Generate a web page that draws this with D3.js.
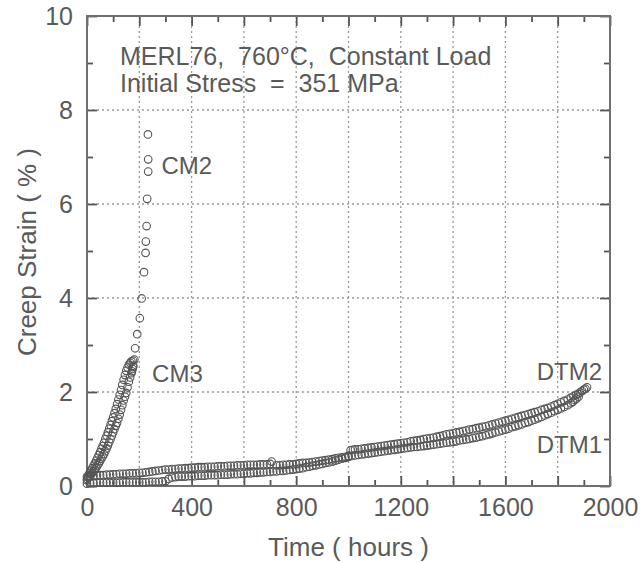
<!DOCTYPE html>
<html>
<head>
<meta charset="utf-8">
<script src="https://cdn.jsdelivr.net/npm/d3@7"></script>
<style>
  html, body { margin: 0; padding: 0; background: #fff; }
  svg { display: block; }
  text { font-family: "Liberation Sans Narrow", "Arial Narrow", "Liberation Sans", sans-serif; fill: #5a5a5a; }
</style>
</head>
<body>
<svg id="chart" width="642" height="563"></svg>
<script>
// Creep curves of MERL76 at 760 °C, constant load, initial stress 351 MPa.
// Each series is a list of [time (hours), creep strain (%)].
const seriesCM3 = [
  [0,0.12],[5,0.18],[10,0.22],[15,0.25],[20,0.28],[25,0.31],[30,0.35],[35,0.39],
  [40,0.44],[45,0.48],[50,0.53],[55,0.58],[60,0.63],[65,0.68],[70,0.74],[75,0.80],
  [80,0.86],[85,0.93],[90,1.00],[95,1.07],[100,1.14],[105,1.21],[110,1.28],[115,1.34],
  [120,1.43],[125,1.52],[130,1.62],[135,1.72],[140,1.82],[145,1.90],[150,1.98],[155,2.10],
  [160,2.22],[165,2.31],[170,2.40],[172,2.44],[174,2.49],[176,2.53],[177,2.56]
];
const seriesCM2 = [
  [0,0.15],[5,0.22],[10,0.28],[15,0.33],[20,0.38],[25,0.43],[30,0.48],[35,0.54],
  [40,0.60],[45,0.66],[50,0.72],[55,0.79],[60,0.85],[65,0.92],[70,1.00],[75,1.07],
  [80,1.14],[85,1.22],[90,1.30],[95,1.38],[100,1.46],[105,1.55],[110,1.64],[115,1.74],
  [120,1.84],[125,1.94],[130,2.04],[135,2.15],[140,2.26],[145,2.36],[150,2.45],[155,2.52],
  [160,2.58],[165,2.62],[170,2.65],[176,2.67],[181,2.69],[184,2.93],[192,3.23],[202,3.57],
  [209,3.99],[218,4.55],[224,4.96],[225,5.20],[228,5.53],[230,6.11],[234,6.69],[234,6.95],
  [233,7.48]
];
const seriesDTM2 = [
  [0,0.20],[12,0.21],[25,0.22],[38,0.22],[50,0.23],[62,0.23],[75,0.24],[88,0.24],
  [100,0.25],[112,0.25],[125,0.26],[138,0.26],[150,0.26],[162,0.27],[175,0.27],[188,0.27],
  [200,0.28],[212,0.28],[225,0.29],[238,0.30],[250,0.31],[262,0.32],[275,0.33],[288,0.34],
  [300,0.35],[312,0.35],[325,0.36],[338,0.36],[350,0.37],[362,0.37],[375,0.38],[388,0.38],
  [400,0.39],[412,0.39],[425,0.40],[438,0.40],[450,0.40],[462,0.41],[475,0.41],[488,0.41],
  [500,0.42],[512,0.42],[525,0.42],[538,0.43],[550,0.43],[562,0.43],[575,0.44],[588,0.44],
  [600,0.44],[612,0.45],[625,0.45],[638,0.45],[650,0.45],[662,0.46],[675,0.46],[688,0.46],
  [700,0.47],[706,0.52],[725,0.44],[738,0.44],[750,0.45],[762,0.45],[775,0.46],[788,0.46],
  [800,0.47],[812,0.48],[825,0.49],[838,0.49],[850,0.50],[862,0.51],[875,0.52],[888,0.53],
  [900,0.54],[912,0.55],[925,0.56],[938,0.57],[950,0.59],[962,0.60],[975,0.61],[988,0.62],
  [1000,0.64],[1008,0.76],[1017,0.77],[1025,0.78],[1038,0.78],[1050,0.79],[1062,0.80],[1075,0.81],
  [1088,0.82],[1100,0.83],[1112,0.84],[1125,0.85],[1138,0.86],[1150,0.87],[1162,0.88],[1175,0.89],
  [1188,0.90],[1200,0.91],[1212,0.92],[1225,0.93],[1238,0.95],[1250,0.96],[1262,0.97],[1275,0.98],
  [1288,1.00],[1300,1.01],[1312,1.02],[1325,1.03],[1338,1.05],[1350,1.06],[1362,1.08],[1375,1.10],
  [1388,1.11],[1400,1.12],[1412,1.14],[1425,1.15],[1438,1.17],[1450,1.18],[1462,1.20],[1475,1.21],
  [1488,1.23],[1500,1.24],[1512,1.26],[1525,1.27],[1538,1.29],[1550,1.31],[1562,1.33],[1575,1.35],
  [1588,1.37],[1600,1.39],[1612,1.41],[1625,1.43],[1638,1.45],[1650,1.47],[1662,1.49],[1675,1.51],
  [1688,1.53],[1700,1.55],[1712,1.57],[1725,1.59],[1738,1.62],[1750,1.64],[1762,1.66],[1775,1.69],
  [1788,1.72],[1800,1.75],[1812,1.78],[1825,1.81],[1838,1.84],[1850,1.88],[1860,1.91],[1870,1.94],
  [1878,1.96],[1885,1.99],[1893,2.02],[1900,2.05],[1906,2.07],[1912,2.10]
];
const seriesDTM1 = [
  [0,0.05],[12,0.06],[25,0.06],[38,0.07],[50,0.07],[62,0.07],[75,0.07],[88,0.07],
  [100,0.07],[112,0.07],[125,0.07],[138,0.08],[150,0.08],[162,0.08],[175,0.08],[188,0.08],
  [200,0.08],[212,0.08],[225,0.08],[238,0.09],[250,0.09],[262,0.09],[275,0.09],[288,0.10],
  [300,0.10],[312,0.15],[325,0.18],[338,0.19],[350,0.20],[362,0.20],[375,0.20],[388,0.21],
  [400,0.21],[412,0.21],[425,0.22],[438,0.22],[450,0.22],[462,0.23],[475,0.23],[488,0.23],
  [500,0.23],[512,0.24],[525,0.24],[538,0.24],[550,0.25],[562,0.25],[575,0.25],[588,0.26],
  [600,0.26],[612,0.27],[625,0.27],[638,0.28],[650,0.28],[662,0.29],[675,0.29],[688,0.30],
  [700,0.30],[712,0.31],[725,0.31],[738,0.32],[750,0.32],[762,0.33],[775,0.34],[788,0.35],
  [800,0.36],[812,0.37],[825,0.38],[838,0.40],[850,0.41],[862,0.43],[875,0.44],[888,0.46],
  [900,0.47],[912,0.49],[925,0.50],[938,0.52],[950,0.54],[962,0.56],[975,0.58],[988,0.60],
  [1000,0.62],[1012,0.64],[1025,0.65],[1038,0.66],[1050,0.67],[1062,0.68],[1075,0.69],[1088,0.70],
  [1100,0.71],[1112,0.72],[1125,0.73],[1138,0.74],[1150,0.75],[1162,0.76],[1175,0.77],[1188,0.78],
  [1200,0.79],[1212,0.80],[1225,0.81],[1238,0.82],[1250,0.83],[1262,0.83],[1275,0.84],[1288,0.85],
  [1300,0.86],[1312,0.87],[1325,0.88],[1338,0.89],[1350,0.90],[1362,0.91],[1375,0.92],[1388,0.93],
  [1400,0.94],[1412,0.95],[1425,0.97],[1438,0.98],[1450,0.99],[1462,1.00],[1475,1.02],[1488,1.03],
  [1500,1.05],[1512,1.06],[1525,1.08],[1538,1.10],[1550,1.12],[1562,1.14],[1575,1.16],[1588,1.18],
  [1600,1.20],[1612,1.22],[1625,1.25],[1638,1.27],[1650,1.29],[1662,1.31],[1675,1.34],[1688,1.36],
  [1700,1.39],[1712,1.41],[1725,1.44],[1738,1.47],[1750,1.50],[1762,1.53],[1775,1.56],[1788,1.59],
  [1800,1.62],[1812,1.65],[1825,1.68],[1838,1.72],[1850,1.76],[1858,1.79],[1865,1.83],[1872,1.86],
  [1880,1.90]
];

const xTickLabels = [0, 400, 800, 1200, 1600, 2000];
const yTickLabels = [0, 2, 4, 6, 8, 10];
const xGridValues = [200, 400, 600, 800, 1000, 1200, 1400, 1600, 1800];
const yGridValues = [2, 4, 6, 8];

// Series labels, baseline-anchored at [time, strain]
const seriesLabels = [
  { text: "CM2",  at: [285, 6.64] },
  { text: "CM3",  at: [249, 2.21] },
  { text: "DTM2", at: [1720, 2.26] },
  { text: "DTM1", at: [1720, 0.70] }
];
const headerLines = ["MERL76,  760\u00B0C,  Constant Load", "Initial Stress  =  351 MPa"];

const svg = d3.select("#chart");
const plotL = 87, plotR = 610, plotT = 16, plotB = 486;
const x = d3.scaleLinear().domain([0, 2000]).range([plotL, plotR]);
const y = d3.scaleLinear().domain([0, 10]).range([plotB, plotT]);
const ink = "#5a5a5a";

// dotted grid
const grid = svg.append("g").attr("stroke", "#999").attr("stroke-width", 1.3).attr("stroke-dasharray", "2,3");
grid.selectAll("line.v").data(xGridValues).join("line").attr("class", "v")
  .attr("x1", d => x(d)).attr("x2", d => x(d)).attr("y1", plotT).attr("y2", plotB);
grid.selectAll("line.h").data(yGridValues).join("line").attr("class", "h")
  .attr("x1", plotL).attr("x2", plotR).attr("y1", d => y(d)).attr("y2", d => y(d));

// inward ticks on all four sides
function styleTicks(g) {
  g.select(".domain").remove();
  g.selectAll(".tick line").attr("stroke", "#555").attr("stroke-width", 1.8);
  g.selectAll("text").remove();
}
const xMajor = d3.range(0, 2001, 200), xMinor = d3.range(100, 2000, 200);
const yMajor = d3.range(0, 11, 2), yMinor = d3.range(1, 10, 2);
svg.append("g").attr("transform", `translate(0,${plotB})`).call(d3.axisBottom(x).tickValues(xMajor).tickSize(-10)).call(styleTicks);
svg.append("g").attr("transform", `translate(0,${plotB})`).call(d3.axisBottom(x).tickValues(xMinor).tickSize(-6)).call(styleTicks);
svg.append("g").attr("transform", `translate(0,${plotT})`).call(d3.axisTop(x).tickValues(xMajor).tickSize(-10)).call(styleTicks);
svg.append("g").attr("transform", `translate(0,${plotT})`).call(d3.axisTop(x).tickValues(xMinor).tickSize(-6)).call(styleTicks);
svg.append("g").attr("transform", `translate(${plotL},0)`).call(d3.axisLeft(y).tickValues(yMajor).tickSize(-10)).call(styleTicks);
svg.append("g").attr("transform", `translate(${plotL},0)`).call(d3.axisLeft(y).tickValues(yMinor).tickSize(-6)).call(styleTicks);
svg.append("g").attr("transform", `translate(${plotR},0)`).call(d3.axisRight(y).tickValues(yMajor).tickSize(-10)).call(styleTicks);
svg.append("g").attr("transform", `translate(${plotR},0)`).call(d3.axisRight(y).tickValues(yMinor).tickSize(-6)).call(styleTicks);

// tick labels
const tickFont = '"Liberation Sans Narrow", "Arial Narrow", "Liberation Sans", sans-serif';
const xl = svg.append("g").attr("transform", `translate(0,${plotB})`)
  .call(d3.axisBottom(x).tickValues(xTickLabels).tickSize(0).tickPadding(12).tickFormat(d3.format("d")));
xl.select(".domain").remove();
xl.selectAll("text").attr("font-size", 25).attr("fill", ink).style("font-family", tickFont);
const yl = svg.append("g").attr("transform", `translate(${plotL},0)`)
  .call(d3.axisLeft(y).tickValues(yTickLabels).tickSize(0).tickPadding(14).tickFormat(d3.format("d")));
yl.select(".domain").remove();
yl.selectAll("text").attr("font-size", 25).attr("fill", ink).style("font-family", tickFont);

// frame
svg.append("rect").attr("x", plotL).attr("y", plotT).attr("width", plotR - plotL).attr("height", plotB - plotT)
  .attr("fill", "none").attr("stroke", "#707070").attr("stroke-width", 2);

// data points
const allSeries = [seriesDTM1, seriesDTM2, seriesCM3, seriesCM2];
const pts = svg.append("g").attr("fill", "none").attr("stroke", "#555").attr("stroke-width", 1.1);
allSeries.forEach(s => {
  pts.append("g").selectAll("circle").data(s).join("circle")
    .attr("cx", d => x(d[0])).attr("cy", d => y(d[1])).attr("r", 3.8);
});

// series labels
svg.append("g").selectAll("text").data(seriesLabels).join("text")
  .attr("x", d => x(d.at[0])).attr("y", d => y(d.at[1]))
  .attr("font-size", 24).attr("fill", ink).text(d => d.text);

// header text
svg.append("g").selectAll("text").data(headerLines).join("text")
  .attr("x", 120).attr("y", (d, i) => 65 + i * 27)
  .attr("font-size", 25).attr("fill", ink).style("white-space", "pre").text(d => d);

// axis titles
svg.append("text").attr("x", (plotL + plotR) / 2).attr("y", 556).attr("text-anchor", "middle")
  .attr("font-size", 26).attr("fill", ink).style("white-space", "pre").text("Time ( hours )");
svg.append("text").attr("transform", "translate(36,252) rotate(-90)").attr("text-anchor", "middle")
  .attr("font-size", 26).attr("fill", ink).style("white-space", "pre").text("Creep Strain ( % )");
</script>
</body>
</html>
